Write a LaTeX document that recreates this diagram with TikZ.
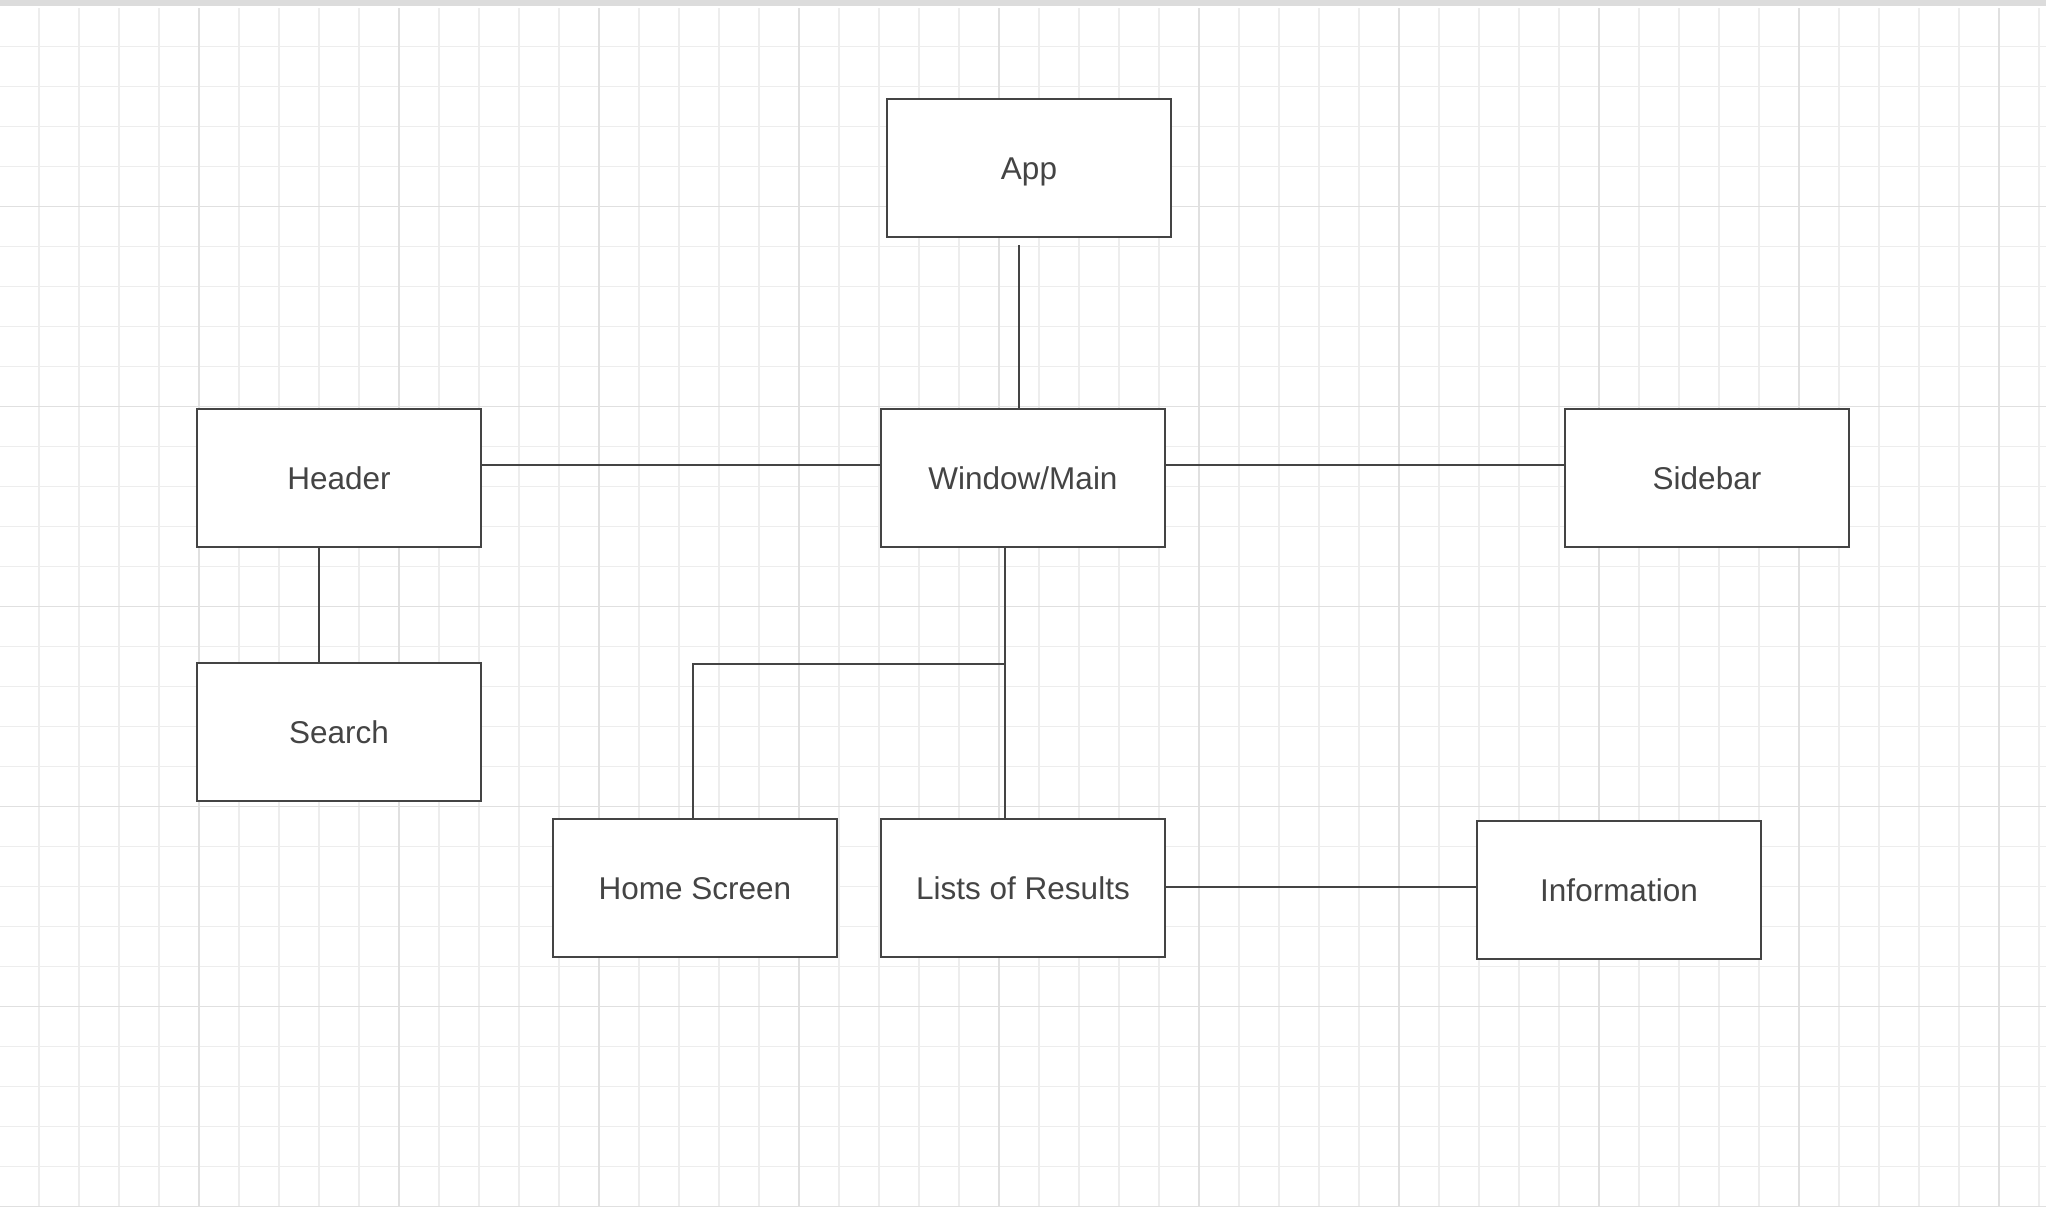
\documentclass[tikz,border=0pt]{standalone}
\usepackage{fontspec}
\setmainfont{Liberation Sans}
\begin{document}
\begin{tikzpicture}[x=1pt,y=-1pt,
    box/.style={draw=kDark,line width=2pt,fill=white,minimum width=284pt,minimum height=138pt,
      inner sep=0pt,text=kDark,font=\fontsize{31.5}{36}\selectfont,text height=22.6pt,text depth=0pt},
    link/.style={draw=kDark,line width=2pt}]
  \definecolor{kDark}{RGB}{68,68,68}
  \definecolor{kBar}{RGB}{220,220,220}
  \definecolor{kMinor}{RGB}{237,237,237}
  \definecolor{kMajor}{RGB}{224,224,224}

  \useasboundingbox (0,0) rectangle (2046,1208);
  \fill[color=kBar] (0,0) rectangle (2046,6);
  \foreach \x in {39,79,...,2039}
    \draw[color=kMinor,line width=1.3pt] (\x,8) -- (\x,1207);
  \foreach \y in {46.7,86.7,...,1206.7}
    \draw[color=kMinor,line width=1.3pt] (0,\y) -- (2046,\y);
  \foreach \x in {199,399,...,1999}
    \draw[color=kMajor,line width=1.5pt] (\x,8) -- (\x,1207);
  \foreach \y in {206.7,406.7,...,1206.7}
    \draw[color=kMajor,line width=1.5pt] (0,\y) -- (2046,\y);

  \node[box] (app)     at (1029,168) {App};
  \node[box] (main)    at (1023,478) {Window/Main};
  \node[box] (header)  at (339,478)  {Header};
  \node[box] (sidebar) at (1707,478) {Sidebar};
  \node[box] (search)  at (339,732)  {Search};
  \node[box] (home)    at (695,888)  {Home Screen};
  \node[box] (results) at (1023,888) {Lists of Results};
  \node[box] (info)    at (1619,890) {Information};

  \coordinate (fork) at ([xshift=-18pt,yshift=-116pt]main.south);

  \draw[link] ([xshift=-10pt,yshift=-7pt]app.south) -- ([xshift=-4pt]main.north);
  \draw[link] ([yshift=13pt]header.east) -- ([yshift=13pt]main.west);
  \draw[link] ([yshift=13pt]main.east) -- ([yshift=13pt]sidebar.west);
  \draw[link] ([xshift=-20pt]header.south) -- ([xshift=-20pt]search.north);
  \draw[link] ([xshift=-18pt]main.south) -- ([xshift=-18pt]results.north);
  \draw[link] (fork) -| ([xshift=-2pt]home.north);
  \draw[link] ([yshift=1pt]results.east) -- ([yshift=1pt]results.east -| info.west);
\end{tikzpicture}
\end{document}
